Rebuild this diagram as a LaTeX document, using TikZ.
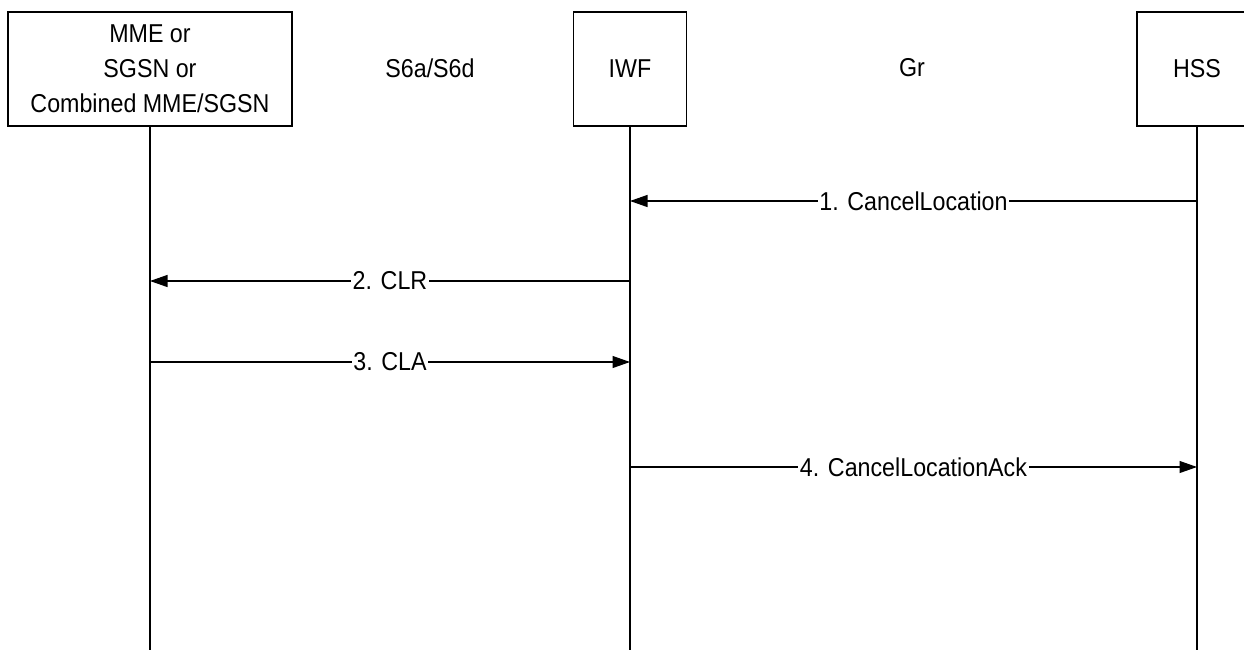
\documentclass[tikz,border=0pt]{standalone}
\usepackage{fontspec}
\setmainfont[FakeStretch=0.9]{Liberation Sans}
\usepackage{tikz}
\usetikzlibrary{arrows.meta, positioning, calc}

\tikzset{
    entity/.style={draw, line width=0.6pt, minimum height=2.28cm, inner sep=0pt, align=center,
        font=\fontsize{14.7}{19.8}\selectfont},
    lifeline/.style={line width=0.6pt},
    msg/.style={line width=0.6pt, -{Triangle[length=3.5mm, width=2.4mm]}},
    msglabel/.style={fill=white, inner sep=1pt, font=\fontsize{14.7}{17}\selectfont},
    iface/.style={font=\fontsize{14.7}{17}\selectfont}
}

\begin{document}
\begin{tikzpicture}[x=0.2mm, y=-0.2mm]
    \useasboundingbox (0,0) rectangle (1244,650);

    % Entities
    \node[entity, minimum width=5.68cm] (mme) at (150,69) {MME or\\SGSN or\\Combined MME/SGSN};
    \node[entity, minimum width=2.26cm] (iwf) at (630,69) {IWF};
    \node[entity, minimum width=2.4cm] (hss) at (1197,69) {HSS};

    % Interfaces
    \node[iface] (s6) at (430,68) {S6a/S6d};
    \node[iface] (gr) at (912,68) {Gr};

    % Lifelines
    \coordinate (mmeEnd) at (150,650);
    \coordinate (iwfEnd) at (630,650);
    \coordinate (hssEnd) at (1197,650);
    \draw[lifeline] (mme.south) -- (mmeEnd);
    \draw[lifeline] (iwf.south) -- (iwfEnd);
    \draw[lifeline] (hss.south) -- (hssEnd);

    % Messages
    \coordinate (hss1) at (1197,201);
    \coordinate (iwf1) at (630,201);
    \draw[msg] (hss1) -- node[msglabel] {1. CancelLocation} (iwf1);

    \coordinate (iwf2) at (630,281);
    \coordinate (mme2) at (150,281);
    \draw[msg] (iwf2) -- node[msglabel] {2. CLR} (mme2);

    \coordinate (mme3) at (150,362);
    \coordinate (iwf3) at (630,362);
    \draw[msg] (mme3) -- node[msglabel] {3. CLA} (iwf3);

    \coordinate (iwf4) at (630,467);
    \coordinate (hss4) at (1197,467);
    \draw[msg] (iwf4) -- node[msglabel] {4. CancelLocationAck} (hss4);
\end{tikzpicture}
\end{document}
